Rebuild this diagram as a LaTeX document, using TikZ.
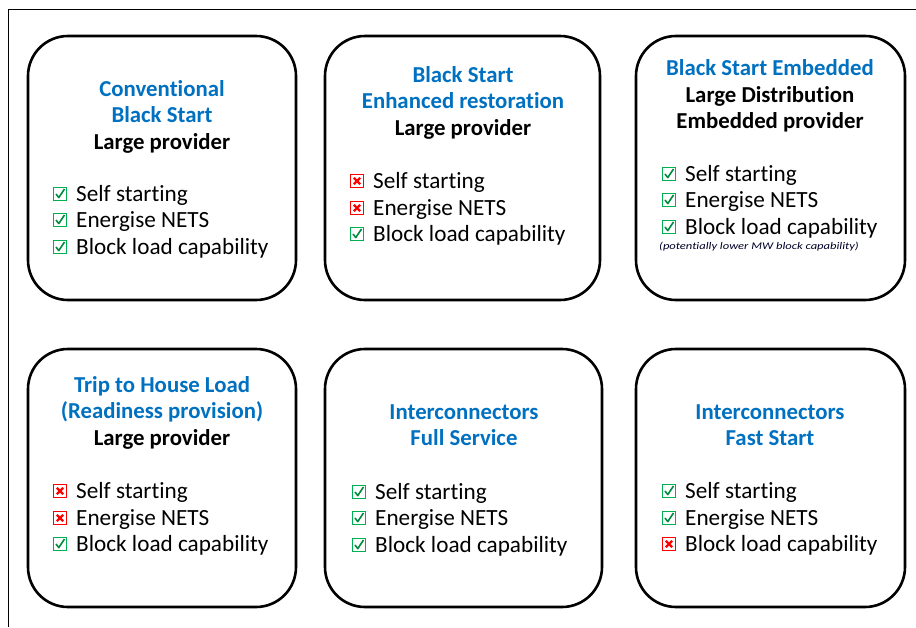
\documentclass[tikz,border=0pt]{standalone}
\usepackage{fontspec}
\setmainfont{Carlito}[Ligatures={NoCommon}]
\definecolor{ttl}{HTML}{0070C0}
\definecolor{okg}{HTML}{00B050}
\definecolor{okd}{HTML}{008A3E}
\definecolor{bad}{HTML}{FF0000}
\begin{document}
\begin{tikzpicture}[x=1pt,y=-1pt,
  card/.style={draw=black,line width=2.6pt,rounded corners=40pt,inner sep=0pt},
  ttlt/.style={font=\fontsize{22.8}{26}\selectfont\bfseries,text=ttl,align=center,inner sep=0pt,text height=18.5pt,text depth=4.5pt},
  sub/.style={font=\fontsize{22.8}{26}\selectfont\bfseries,text=black,align=center,inner sep=0pt,text height=18.5pt,text depth=4.5pt},
  item/.style={font=\fontsize{23.2}{26}\selectfont,anchor=west,inner sep=0pt,text height=19pt,text depth=4.5pt},
  note/.style={font=\fontsize{10.2}{12}\selectfont\itshape,anchor=west,inner sep=0pt,text=black!85!blue},
  cbyes/.pic={\draw[okg,line width=1.3pt,fill=white] (-6.8,-6.8) rectangle (6.8,6.8);
              \draw[okd,line width=1.6pt,line join=round] (-4,0) -- (-1.2,3.6) -- (4.5,-5);},
  cbno/.pic={\draw[bad,line width=1.3pt,fill=white] (-6.8,-6.8) rectangle (6.8,6.8);
             \draw[bad,line width=2.2pt] (-3.2,-3.2) -- (3.2,3.2) (-3.2,3.2) -- (3.2,-3.2);}
]
\useasboundingbox (0,0) rectangle (916,627);
% frame
\coordinate (fa) at (8.5,627);
\coordinate (fb) at (8.5,9.5);
\coordinate (fc) at (916,9.5);
\draw[line width=1.8pt] (fa) -- (fb) -- (fc);
% cards
\node[card,minimum width=268pt,minimum height=264pt] (c1) at (162,168) {};
\node[card,minimum width=275pt,minimum height=264pt] (c2) at (462.5,168) {};
\node[card,minimum width=269pt,minimum height=264pt] (c3) at (770.5,168) {};
\node[card,minimum width=268pt,minimum height=258pt] (c4) at (162,478) {};
\node[card,minimum width=277pt,minimum height=258pt] (c5) at (463.5,478) {};
\node[card,minimum width=269pt,minimum height=258pt] (c6) at (770.5,478) {};
% card 1
\node[ttlt] (t1a) at (162,89) {Conventional};
\node[ttlt] (t1b) at (162,115) {Black Start};
\node[sub] (t1c) at (162,142) {Large provider};
\pic at (60,194) {cbyes}; \node[item] (i1a) at (76,194) {Self starting};
\pic at (60,220) {cbyes}; \node[item] (i1b) at (76,220) {Energise NETS};
\pic at (60,247) {cbyes}; \node[item] (i1c) at (76,247) {Block load capability};
% card 2
\node[ttlt] (t2a) at (463,75) {Black Start};
\node[ttlt] (t2b) at (463,101) {Enhanced restoration};
\node[sub] (t2c) at (463,128) {Large provider};
\pic at (357,181) {cbno}; \node[item] (i2a) at (373,181) {Self starting};
\pic at (357,208) {cbno}; \node[item] (i2b) at (373,208) {Energise NETS};
\pic at (357,234) {cbyes}; \node[item] (i2c) at (373,234) {Block load capability};
% card 3
\node[ttlt] (t3a) at (770,68) {Black Start Embedded};
\node[sub] (t3b) at (770,95) {Large Distribution};
\node[sub] (t3c) at (770,121) {Embedded provider};
\pic at (669,174) {cbyes}; \node[item] (i3a) at (685,174) {Self starting};
\pic at (669,200) {cbyes}; \node[item] (i3b) at (685,200) {Energise NETS};
\pic at (669,227) {cbyes}; \node[item] (i3c) at (685,227) {Block load capability};
\node[note] (n3) at (659,247) {\scalebox{1.23}[1]{(potentially lower MW block capability)}};
% card 4
\node[ttlt] (t4a) at (162,385) {Trip to House Load};
\node[ttlt] (t4b) at (162,411) {(Readiness provision)};
\node[sub] (t4c) at (162,438) {Large provider};
\pic at (60,491) {cbno}; \node[item] (i4a) at (76,491) {Self starting};
\pic at (60,518) {cbno}; \node[item] (i4b) at (76,518) {Energise NETS};
\pic at (60,544) {cbyes}; \node[item] (i4c) at (76,544) {Block load capability};
% card 5
\node[ttlt] (t5a) at (464,412) {Interconnectors};
\node[ttlt] (t5b) at (464,438) {Full Service};
\pic at (359,492) {cbyes}; \node[item] (i5a) at (375,492) {Self starting};
\pic at (359,518) {cbyes}; \node[item] (i5b) at (375,518) {Energise NETS};
\pic at (359,545) {cbyes}; \node[item] (i5c) at (375,545) {Block load capability};
% card 6
\node[ttlt] (t6a) at (770,412) {Interconnectors};
\node[ttlt] (t6b) at (770,438) {Fast Start};
\pic at (669,491) {cbyes}; \node[item] (i6a) at (685,491) {Self starting};
\pic at (669,518) {cbyes}; \node[item] (i6b) at (685,518) {Energise NETS};
\pic at (669,544) {cbno}; \node[item] (i6c) at (685,544) {Block load capability};
\end{tikzpicture}
\end{document}
